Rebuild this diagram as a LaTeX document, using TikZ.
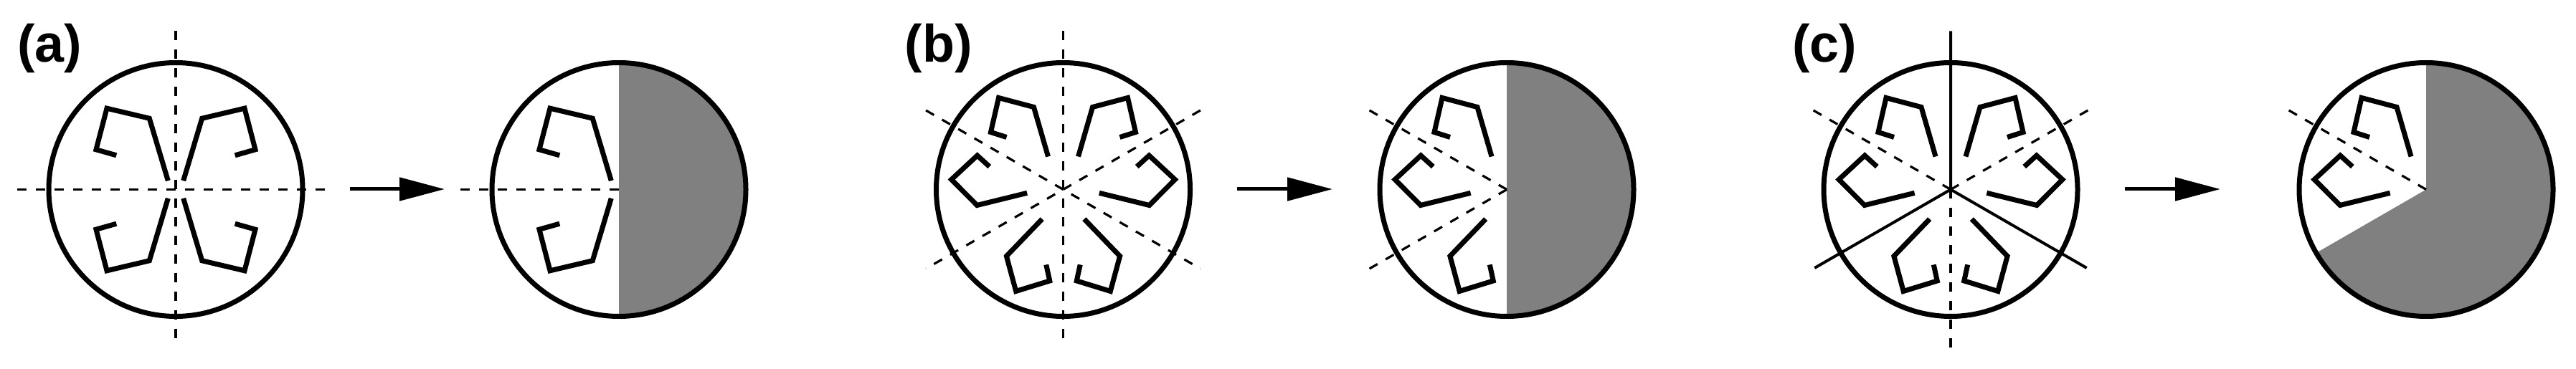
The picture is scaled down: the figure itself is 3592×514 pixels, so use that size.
\documentclass[tikz,border=0pt]{standalone}
\usepackage{fontspec}
\setmainfont{Liberation Sans}
\usetikzlibrary{arrows.meta}
\tikzset{
  disc/.style={line width=7pt},
  hookline/.style={line width=7pt, line join=miter, miter limit=10},
  axisdash/.style={line width=3.2pt, dash pattern=on 13pt off 13pt},
  axissolid/.style={line width=4pt},
  halfshade/.style={fill=gray},
  arrowline/.style={line width=5pt, -{Triangle[length=63pt,width=32pt]}},
  panellabel/.style={anchor=base west, inner sep=0pt, font=\bfseries\fontsize{73.6}{80}\selectfont},
}
\newcommand\hookApath{(-10.7,12.3) -- (-36.7,99.3) -- (-96,113.3) -- (-111,55.7) -- (-82.7,47.7)}
\newcommand\hookBpath{(-21,46) -- (-41,115) -- (-90,128) -- (-101,80) -- (-79,73)}
\begin{document}
\begin{tikzpicture}[x=1pt,y=1pt]
\useasboundingbox (0,0) rectangle (3592,514);
\fill[white] (0,0) rectangle (3592,514);
\coordinate (ca1) at (245,249.5);
\coordinate (ca2) at (863,249.5);
\coordinate (cb1) at (1482.5,249.5);
\coordinate (cb2) at (2101,249.5);
\coordinate (cc1) at (2720,249.5);
\coordinate (cc2) at (3383,249.5);
\coordinate (arA1) at (488,250);
\coordinate (arA2) at (620,250);
\coordinate (arB1) at (1725,250);
\coordinate (arB2) at (1858,250);
\coordinate (arC1) at (2963,250);
\coordinate (arC2) at (3096,250);

% labels
\node[panellabel] (la) at (24,427.5) {(a)};
\node[panellabel] (lb) at (1261.5,427.5) {(b)};
\node[panellabel] (lc) at (2499,427.5) {(c)};

% ---------- panel (a) left
\begin{scope}[shift={(ca1)}]
  \draw[axisdash] (-221,0) -- (221,0);
  \draw[axisdash] (0,221) -- (0,-221);
  \draw[disc] (0,0) circle[radius=177];
  \foreach \sx/\sy in {1/1,-1/1,1/-1,-1/-1}{
    \draw[hookline, xscale=\sx, yscale=\sy] \hookApath;
  }
\end{scope}
% ---------- panel (a) right
\begin{scope}[shift={(ca2)}]
  \fill[halfshade] (0,-177) arc[start angle=-90, end angle=90, radius=177] -- cycle;
  \draw[axisdash] (-221,0) -- (0,0);
  \draw[hookline] \hookApath;
  \draw[hookline, yscale=-1] \hookApath;
  \draw[disc] (0,0) circle[radius=177];
\end{scope}
% ---------- panel (b) left
\begin{scope}[shift={(cb1)}]
  \draw[axisdash] (0,221) -- (0,-221);
  \draw[axisdash] (150:221) -- (330:221);
  \draw[axisdash] (30:221) -- (210:221);
  \draw[disc] (0,0) circle[radius=177];
  \foreach \r in {0,120,240}{
    \draw[hookline, rotate=\r] \hookBpath;
    \draw[hookline, rotate=\r, xscale=-1] \hookBpath;
  }
\end{scope}
% ---------- panel (b) right
\begin{scope}[shift={(cb2)}]
  \fill[halfshade] (0,-177) arc[start angle=-90, end angle=90, radius=177] -- cycle;
  \draw[axisdash] (150:221) -- (0,0);
  \draw[axisdash] (210:221) -- (0,0);
  \draw[hookline] \hookBpath;
  \draw[hookline, rotate=120] \hookBpath;
  \draw[hookline, rotate=120, xscale=-1] \hookBpath;
  \draw[disc] (0,0) circle[radius=177];
\end{scope}
% ---------- panel (c) left
\begin{scope}[shift={(cc1)}]
  \draw[axisdash] (150:221) -- (0,0);
  \draw[axisdash] (30:221) -- (0,0);
  \draw[axisdash] (0,-221) -- (0,0);
  \draw[axissolid] (0,221) -- (0,0) -- (210:219);
  \draw[axissolid] (0,0) -- (330:219);
  \draw[disc] (0,0) circle[radius=177];
  \foreach \r in {0,120,240}{
    \draw[hookline, rotate=\r] \hookBpath;
    \draw[hookline, rotate=\r, xscale=-1] \hookBpath;
  }
\end{scope}
% ---------- panel (c) right
\begin{scope}[shift={(cc2)}]
  \fill[halfshade] (0,0) -- (210:177) arc[start angle=210, end angle=450, radius=177] -- cycle;
  \draw[axisdash] (150:221) -- (0,0);
  \draw[hookline] \hookBpath;
  \draw[hookline, rotate=120, xscale=-1] \hookBpath;
  \draw[disc] (0,0) circle[radius=177];
\end{scope}

% arrows
\draw[arrowline] (arA1) -- (arA2);
\draw[arrowline] (arB1) -- (arB2);
\draw[arrowline] (arC1) -- (arC2);
\end{tikzpicture}
\end{document}
